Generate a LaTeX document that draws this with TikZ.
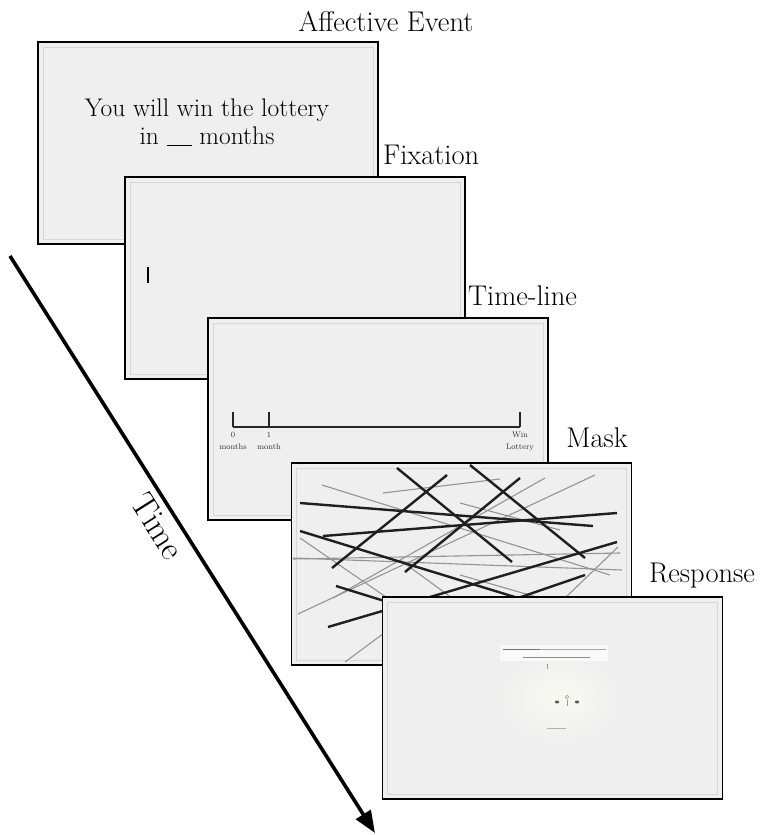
\documentclass[tikz,border=0pt]{standalone}
\usetikzlibrary{arrows.meta}
\definecolor{screenbg}{RGB}{239,239,239}
\definecolor{glow}{RGB}{249,249,243}
\begin{document}
\begin{tikzpicture}[x=1pt,y=-1pt,
  screen/.style={draw=black, line width=1.8pt, fill=screenbg,
    minimum width=340pt, minimum height=202pt, inner sep=0pt, outer sep=0pt},
  innerframe/.style={draw=black!16, line width=0.8pt},
  lab/.style={font=\fontsize{28.5}{34}\selectfont, inner sep=0pt},
  evtext/.style={font=\fontsize{25.5}{30}\selectfont, inner sep=0pt},
  tl/.style={line width=1.5pt, black!85},
  tlab/.style={font=\fontsize{8}{12}\selectfont, align=center, inner sep=0pt, black!80},
  maskblack/.style={line width=2.4pt, black!88},
  maskgray/.style={line width=1.1pt, black!42},
  faint/.style={line width=0.8pt, black!40},
  timearrow/.style={line width=3.6pt, -{Triangle[length=22pt,width=17pt]}},
  ]
\useasboundingbox (0,0) rectangle (761,835);

% ---- screen 1: affective event ----
\node[screen] (s1) at (208,143) {};
\draw[innerframe] ([shift={(5,5)}]s1.north west) rectangle ([shift={(-5,-5)}]s1.south east);
\node[evtext, anchor=base] (ev1) at (207,116) {You will win the lottery};
\node[evtext, anchor=base] (ev2) at (207,144) {in \rule[-2pt]{25pt}{1.2pt} months};

% ---- screen 2: fixation ----
\node[screen] (s2) at (295,278) {};
\draw[innerframe] ([shift={(5,5)}]s2.north west) rectangle ([shift={(-5,-5)}]s2.south east);
\coordinate (fixtop) at (148,267);
\coordinate (fixbot) at (148,283);
\draw[line width=1.6pt] (fixtop) -- (fixbot);

% ---- screen 3: time-line ----
\node[screen] (s3) at (378,419) {};
\draw[innerframe] ([shift={(5,5)}]s3.north west) rectangle ([shift={(-5,-5)}]s3.south east);
\coordinate (t0) at (233,427);
\coordinate (t1) at (269,427);
\coordinate (tw) at (520,427);
\draw[tl] (t0) -- (tw);
\draw[tl] (t0) -- ++(0,-15);
\draw[tl] (t1) -- ++(0,-15);
\draw[tl] (tw) -- ++(0,-15);
\node[tlab, anchor=north] (l0) at (233,431.5) {0\\months};
\node[tlab, anchor=north] (l1) at (269,431.5) {1\\month};
\node[tlab, anchor=north] (lw) at (520,431.5) {Win\\Lottery};

% ---- screen 4: mask ----
\node[screen] (s4) at (461.5,564) {};
\draw[innerframe] ([shift={(5,5)}]s4.north west) rectangle ([shift={(-5,-5)}]s4.south east);
% thin grey strokes
\draw[maskgray] (322,485) -- (610,575);
\draw[maskgray] (595,475) -- (298,614);
\draw[maskgray] (293,558) -- (622,570);
\draw[maskgray] (293,559) -- (620,553);
\draw[maskgray] (300,538) -- (386,597);
\draw[maskgray] (333,598) -- (545,478);
\draw[maskgray] (618,547) -- (565,598);
\draw[maskgray] (345,662) -- (395,625);
\draw[maskgray] (460,575) -- (540,598);
\draw[maskgray] (400,560) -- (452,598);
\draw[maskgray] (460,503) -- (560,530);
\draw[maskgray] (383,493) -- (500,479);
% heavy black strokes
\draw[maskblack] (397,468) -- (512,562);
\draw[maskblack] (470,465) -- (585,558);
\draw[maskblack] (447,475) -- (332,568);
\draw[maskblack] (520,478) -- (405,572);
\draw[maskblack] (300,503) -- (593,526);
\draw[maskblack] (323,536) -- (617,513);
\draw[maskblack] (300,531) -- (518,598);
\draw[maskblack] (518,598) -- (585,575);
\draw[maskblack] (328,627) -- (617,542);
\draw[maskblack] (336,586) -- (420,612);

% ---- screen 5: response ----
\node[screen] (s5) at (552.5,698) {};
\draw[innerframe] ([shift={(5,5)}]s5.north west) rectangle ([shift={(-5,-5)}]s5.south east);
\shade[inner color=glow, outer color=screenbg] (560,698) ellipse [x radius=62, y radius=46];
\fill[white!70!screenbg] (500,645) rectangle (608,661);
\draw[faint, black!55] (503,649) -- (540,649);
\draw[faint, black!35] (540,649) -- (606,649);
\draw[faint, black!45, line width=0.6pt] (523,657) -- (590,657);
\draw[faint] (547,664) -- (547,669);
\fill[black!65] (557,702) ellipse [x radius=2.2, y radius=1.5];
\fill[black!65] (577,702) ellipse [x radius=2.2, y radius=1.5];
\draw[faint, line width=0.5pt] (567,697) circle [radius=1.8];
\draw[faint, line width=0.5pt] (567,700) -- (567,706);
\draw[faint, black!30] (547,728) -- (566,728);

% ---- labels ----
\node[lab, anchor=base] (lab1) at (386,31) {Affective Event};
\node[lab, anchor=base west] (lab2) at (383,164) {Fixation};
\node[lab, anchor=base west] (lab3) at (468,305) {Time-line};
\node[lab, anchor=base] (lab4) at (597,447) {Mask};
\node[lab, anchor=base] (lab5) at (702,582) {Response};

% ---- time arrow ----
\coordinate (tstart) at (10,256);
\coordinate (tend) at (375,833);
\draw[timearrow] (tstart) -- (tend)
  node[pos=0.45, sloped, below=6pt, font=\fontsize{34}{40}\selectfont, inner sep=0pt] (timelab) {Time};
\end{tikzpicture}
\end{document}
